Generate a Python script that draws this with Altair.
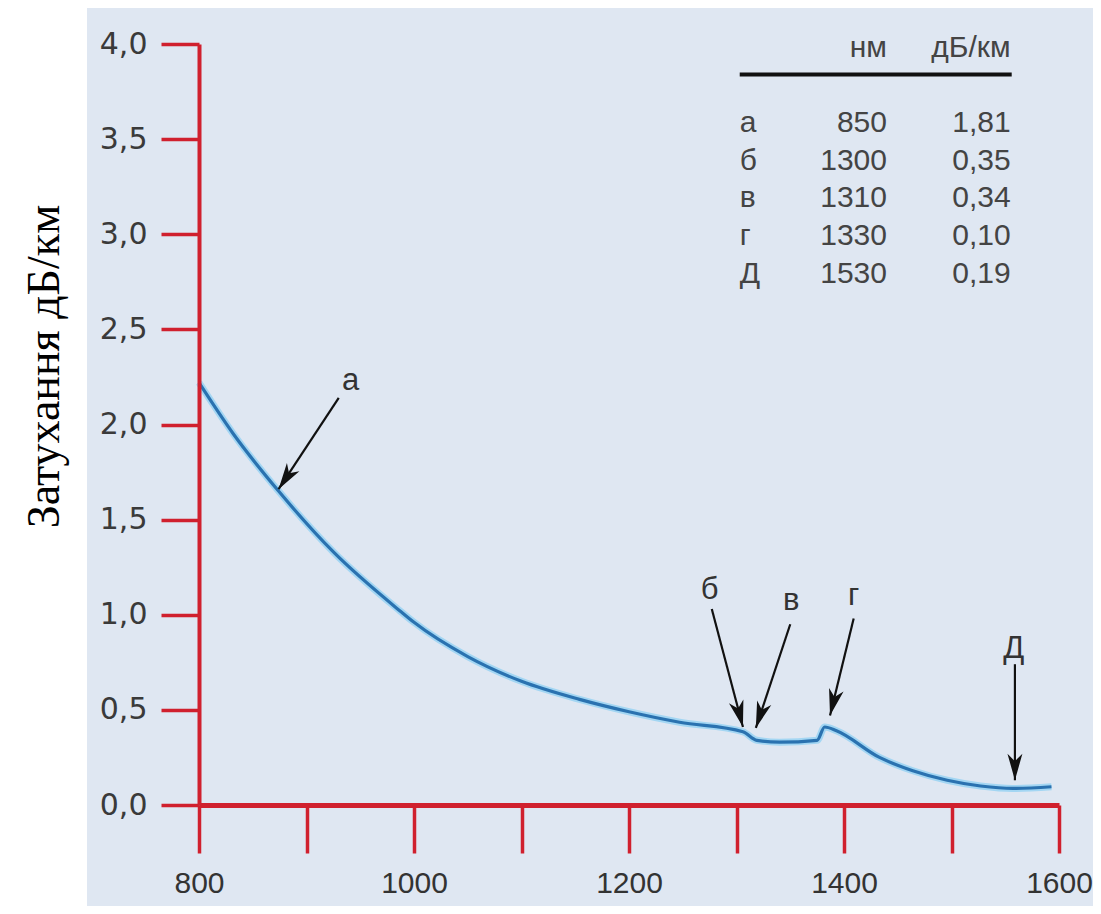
import math
import altair as alt
import pandas as pd

# ---------------- data ----------------
wavelength = [800, 832, 874, 925, 987, 1000, 1050, 1100, 1154, 1200, 1247, 1306,
              1319, 1340, 1375, 1382, 1393, 1433, 1464, 1496, 1527, 1557, 1593]
attenuation = [2.22, 1.95, 1.65, 1.33, 1.02, 0.96, 0.78, 0.65, 0.555, 0.49, 0.435, 0.385,
               0.34, 0.33, 0.34, 0.41, 0.39, 0.25, 0.18, 0.13, 0.10, 0.087, 0.096]

arrow_labels = ["а", "б", "в", "г", "Д"]
arrow_tail_nm = [930, 1277, 1350, 1409, 1559]
arrow_tail_val = [2.14, 1.03, 0.95, 0.98, 0.74]
arrow_tip_nm = [874, 1306, 1318, 1387, 1559]
arrow_tip_val = [1.66, 0.41, 0.405, 0.47, 0.13]
label_nm = [941, 1275, 1351, 1409, 1558]
label_val = [2.23, 1.13, 1.07, 1.10, 0.82]

table_letters = ["а", "б", "в", "г", "Д"]
table_nm = ["850", "1300", "1310", "1330", "1530"]
table_db = ["1,81", "0,35", "0,34", "0,10", "0,19"]
table_headers = ["нм", "дБ/км"]

x_ticks = list(range(800, 1601, 100))
y_ticks = [0, 0.5, 1.0, 1.5, 2.0, 2.5, 3.0, 3.5, 4.0]

# ---------------- layout ----------------
W, H = 860, 761
RED = "#d0202e"
BG = "#dfe7f2"
LABEL_FONT = "Liberation Sans"

xs = alt.Scale(domain=[800, 1600], nice=False, zero=False)
ys = alt.Scale(domain=[0, 4], nice=False, zero=False)

xaxis = alt.Axis(
    values=x_ticks,
    labelExpr="datum.value % 200 == 0 ? format(datum.value, 'd') : ''",
    title="", grid=False, zindex=1,
    domainColor=RED, domainWidth=5, tickColor=RED, tickWidth=3.5, tickSize=48,
    labelPadding=15, labelFontSize=30, labelFont=LABEL_FONT, labelColor="#333333",
    labelFlush=False, labelOverlap=False,
)
yaxis = alt.Axis(
    values=y_ticks,
    labelExpr="replace(format(datum.value, '.1f'), '.', ',')",
    title="Затухання дБ/км", titleFont="Liberation Serif", titleFontSize=46,
    titleFontWeight="normal", titleColor="#000000", titleX=-155, titleY=322,
    titleAngle=270, titleAlign="center", titleBaseline="middle",
    grid=False, zindex=1,
    domainColor=RED, domainWidth=4, tickColor=RED, tickWidth=3.5, tickSize=38,
    labelPadding=14, labelFontSize=30, labelFont="DejaVu Sans", labelColor="#3a3a3a",
    labelFlush=False, labelOverlap=False,
)

X = alt.X("nm:Q", scale=xs, axis=xaxis)
Y = alt.Y("val:Q", scale=ys, axis=yaxis)

curve_df = pd.DataFrame({"nm": wavelength, "val": attenuation})

# arrow head angles (screen space)
angles = []
for tn, tv, pn, pv in zip(arrow_tail_nm, arrow_tail_val, arrow_tip_nm, arrow_tip_val):
    dxs = (pn - tn) * W / 800.0
    dys = -(pv - tv) * H / 4.0
    angles.append(math.degrees(math.atan2(dxs, -dys)) % 360)

arrow_df = pd.DataFrame({
    "nm": arrow_tail_nm, "val": arrow_tail_val,
    "nm2": arrow_tip_nm, "val2": arrow_tip_val,
})
head_df = pd.DataFrame({"nm": arrow_tip_nm, "val": arrow_tip_val, "ang": angles})
lab_df = pd.DataFrame({"nm": label_nm, "val": label_val, "txt": arrow_labels})

table_df = pd.DataFrame({
    "i": list(range(len(table_letters))),
    "letter": table_letters, "wl": table_nm, "db": table_db,
})
one = pd.DataFrame({"k": [0]})

white_strip = alt.Chart(one).mark_rect(color="white").encode(
    x=alt.value(-191), x2=alt.value(-112), y=alt.value(-36), y2=alt.value(H + 101)
)

halo = alt.Chart(curve_df).mark_line(
    color="#a3d6f3", strokeWidth=7, interpolate="monotone"
).encode(x=X, y=Y)
core = alt.Chart(curve_df).mark_line(
    color="#2a72b0", strokeWidth=3.2, interpolate="monotone"
).encode(x=X, y=Y)

arrows = alt.Chart(arrow_df).mark_rule(color="#111111", strokeWidth=2.2).encode(
    x=X, y=Y, x2="nm2:Q", y2="val2:Q"
)
heads = alt.Chart(head_df).mark_point(
    shape="M0,0 L-0.45,1.6 L0,1.15 L0.45,1.6 Z", filled=True, color="#111111",
    opacity=1, size=1100, strokeWidth=0
).encode(x=X, y=Y, angle=alt.Angle("ang:Q", scale=None))

arrow_text = alt.Chart(lab_df).mark_text(
    font=LABEL_FONT, fontSize=31, color="#333333", baseline="middle", align="center"
).encode(x=X, y=Y, text="txt:N")

# ---- table ----
TFS = 30
hdr = alt.Chart(pd.DataFrame({"t": table_headers, "nm": [1440, 1555], "val": [3.98, 3.98]})).mark_text(
    font=LABEL_FONT, fontSize=TFS, color="#444444", align="right", baseline="middle"
).encode(x=X, y=Y, text="t:N")

tline = alt.Chart(one).mark_rule(color="#111111", strokeWidth=4).encode(
    x=alt.datum(1303), x2=alt.datum(1556), y=alt.datum(3.84)
)

rows_base = alt.Chart(table_df).transform_calculate(val="3.585 - datum.i * 0.198")
col_letter = rows_base.transform_calculate(nm="1303").mark_text(
    font=LABEL_FONT, fontSize=TFS, color="#444444", align="left", baseline="middle"
).encode(x=X, y=Y, text="letter:N")
col_nm = rows_base.transform_calculate(nm="1440").mark_text(
    font=LABEL_FONT, fontSize=TFS, color="#444444", align="right", baseline="middle"
).encode(x=X, y=Y, text="wl:N")
col_db = rows_base.transform_calculate(nm="1555").mark_text(
    font=LABEL_FONT, fontSize=TFS, color="#444444", align="right", baseline="middle"
).encode(x=X, y=Y, text="db:N")

chart = alt.layer(
    white_strip, halo, core, arrows, heads, arrow_text,
    hdr, tline, col_letter, col_nm, col_db
).properties(
    width=W, height=H, background=BG,
    padding={"left": 191, "top": 36, "right": 34, "bottom": 101},
    autosize=alt.AutoSizeParams(type="none"),
).configure_view(strokeWidth=0)

chart.save("out.html", embed_options={"renderer": "svg", "actions": False})
